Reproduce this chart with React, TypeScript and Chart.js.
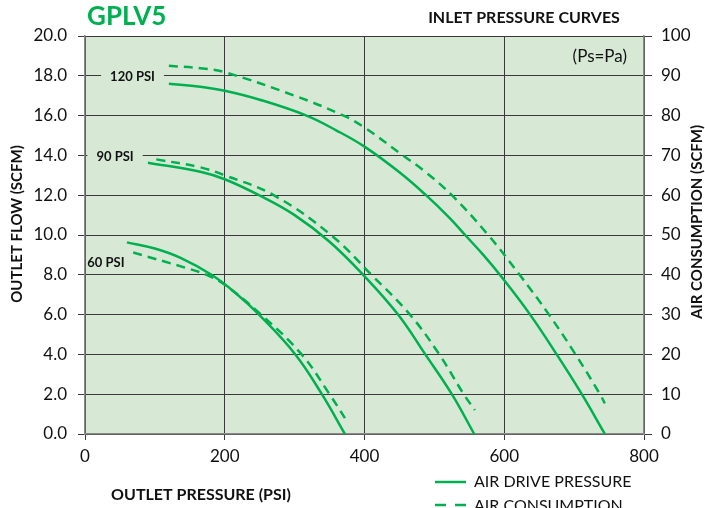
import React, { useEffect, useRef } from 'react';
import { Chart, registerables } from 'chart.js';

Chart.register(...registerables);

// ---------- data ----------
const titleText = 'GPLV5';
const subtitleText = 'INLET PRESSURE CURVES';
const noteText = '(Ps=Pa)';
const xTitle = 'OUTLET PRESSURE (PSI)';
const yTitle = 'OUTLET FLOW (SCFM)';
const y1Title = 'AIR CONSUMPTION (SCFM)';
const legendLabels = ['AIR DRIVE PRESSURE', 'AIR CONSUMPTION'];

const xRange = [0, 800];
const xStep = 200;
const yRange = [0, 20];
const yStep = 2;
const y1Range = [0, 100];
const y1Step = 10;

// Air drive pressure (outlet flow, left axis)
const drive120X = [120, 165, 200, 250, 317, 360, 400, 450, 488, 522, 544, 570, 596, 637, 675, 711, 744];
const drive120Y = [17.6, 17.45, 17.25, 16.8, 16.0, 15.25, 14.44, 13.15, 12.0, 10.85, 10.0, 9.0, 7.9, 6.0, 4.0, 2.0, 0];
const drive90X = [90, 165, 200, 249, 300, 350, 398, 448, 487, 525, 557];
const drive90Y = [13.63, 13.18, 12.8, 12.0, 11.0, 9.66, 8.0, 6.0, 4.0, 2.0, 0];
const drive60X = [60, 100, 136, 181, 215, 249, 301, 339, 372];
const drive60Y = [9.63, 9.32, 8.86, 8.0, 7.1, 6.0, 4.0, 2.0, 0];

// Air consumption (right axis, SCFM)
const cons120X = [120, 165, 200, 300, 370, 400, 455, 484, 525, 577, 622, 664, 702, 737, 744];
const cons120Y = [92.5, 91.9, 90.9, 85, 80, 77, 70, 66.3, 60, 50, 40, 30, 20, 10, 7.7];
const cons90X = [102, 165, 200, 270, 352, 410, 465, 507, 542, 558];
const cons90Y = [69, 67, 65, 60, 50, 40, 30, 20, 10, 6];
const cons60X = [69, 143, 174, 200, 252, 310, 350, 372];
const cons60Y = [45.6, 41.8, 40, 37.5, 30, 20, 10, 4];

// curve labels (text, anchor in data units of the left axis)
const psiLabels = ['120 PSI', '90 PSI', '60 PSI'];
const psiLabelX = [68, 43, 30];
const psiLabelY = [18.0, 14.0, 8.63];
const psiLabelMask = [true, true, false];

// ---------- style ----------
const GREEN = '#00B050';
const PLOT_BG = '#D7E9D5';
const GRID = '#3A3A3A';
const AXIS = '#8A8A8A';
const FONT = 'Lato, "Open Sans", "DejaVu Sans", sans-serif';

const pts = (xs: number[], ys: number[]) => xs.map((x, i) => ({ x, y: ys[i] }));

const decor = {
  id: 'decor',
  beforeDraw(chart: any) {
    const { ctx, chartArea: a } = chart;
    ctx.save();
    ctx.fillStyle = PLOT_BG;
    ctx.fillRect(a.left, a.top, a.right - a.left, a.bottom - a.top);
    ctx.restore();
  },
  beforeDatasetsDraw(chart: any) {
    const { ctx } = chart;
    const xs = chart.scales.x;
    const ys = chart.scales.y;
    ctx.save();
    ctx.font = `bold 13px ${FONT}`;
    ctx.textAlign = 'center';
    ctx.textBaseline = 'middle';
    psiLabels.forEach((t, i) => {
      const px = xs.getPixelForValue(psiLabelX[i]);
      const py = ys.getPixelForValue(psiLabelY[i]);
      if (psiLabelMask[i]) {
        const w = ctx.measureText(t).width + 18;
        ctx.fillStyle = PLOT_BG;
        ctx.fillRect(px - w / 2, py - 7, w, 14);
      }
      ctx.fillStyle = '#111';
      ctx.fillText(t, px, py + 1);
    });
    ctx.restore();
  },
  afterDraw(chart: any) {
    const { ctx } = chart;
    ctx.save();
    // title
    ctx.fillStyle = GREEN;
    ctx.font = `bold 26px ${FONT}`;
    ctx.textAlign = 'left';
    ctx.textBaseline = 'middle';
    ctx.fillText(titleText, 87, 17);
    // subtitle
    ctx.fillStyle = '#111';
    ctx.font = `bold 16px ${FONT}`;
    ctx.textAlign = 'center';
    ctx.fillText(subtitleText, 524, 18);
    // note
    ctx.font = `17px ${FONT}`;
    ctx.textAlign = 'right';
    ctx.fillText(noteText, 627, 57);
    // x title
    ctx.font = `bold 16px ${FONT}`;
    ctx.textAlign = 'center';
    ctx.fillText(xTitle, 201, 495);
    // y titles
    ctx.font = `bold 15px ${FONT}`;
    ctx.save();
    ctx.translate(17, 224);
    ctx.rotate(-Math.PI / 2);
    ctx.fillText(yTitle, 0, 0);
    ctx.restore();
    ctx.save();
    ctx.translate(697, 222);
    ctx.rotate(-Math.PI / 2);
    ctx.fillText(y1Title, 0, 0);
    ctx.restore();
    // legend
    ctx.lineWidth = 2.5;
    ctx.strokeStyle = GREEN;
    ctx.beginPath();
    ctx.moveTo(435, 482);
    ctx.lineTo(466, 482);
    ctx.stroke();
    ctx.setLineDash([11, 9]);
    ctx.beginPath();
    ctx.moveTo(435, 505);
    ctx.lineTo(466, 505);
    ctx.stroke();
    ctx.setLineDash([]);
    ctx.fillStyle = '#111';
    ctx.font = `16px ${FONT}`;
    ctx.textAlign = 'left';
    ctx.fillText(legendLabels[0], 474, 482);
    ctx.fillText(legendLabels[1], 474, 506);
    ctx.restore();
  },
};

export default function App() {
  const ref = useRef<HTMLCanvasElement | null>(null);
  useEffect(() => {
    if (!ref.current) return;
    const solid = { borderColor: GREEN, borderWidth: 2.5, pointRadius: 0, tension: 0.4, fill: false, yAxisID: 'y' };
    const dashed = { ...solid, borderDash: [9, 6], yAxisID: 'y1' };
    const chart = new Chart(ref.current, {
      type: 'line',
      data: {
        datasets: [
          { ...solid, label: 'AIR DRIVE 120', data: pts(drive120X, drive120Y) },
          { ...solid, label: 'AIR DRIVE 90', data: pts(drive90X, drive90Y) },
          { ...solid, label: 'AIR DRIVE 60', data: pts(drive60X, drive60Y) },
          { ...dashed, label: 'AIR CONS 120', data: pts(cons120X, cons120Y) },
          { ...dashed, label: 'AIR CONS 90', data: pts(cons90X, cons90Y) },
          { ...dashed, label: 'AIR CONS 60', data: pts(cons60X, cons60Y) },
        ],
      },
      options: {
        animation: false,
        responsive: true,
        maintainAspectRatio: false,
        layout: { padding: { top: 36, left: 0, right: 0, bottom: 0 } },
        plugins: { legend: { display: false }, tooltip: { enabled: false }, title: { display: false } },
        scales: {
          x: {
            type: 'linear',
            min: xRange[0],
            max: xRange[1],
            ticks: { stepSize: xStep, color: '#111', font: { family: FONT, size: 17 }, padding: 6 },
            grid: { color: GRID, lineWidth: 1, tickLength: 6 },
            border: { color: AXIS, width: 1.5 },
            afterFit: (s: any) => { s.height = 74; },
          },
          y: {
            position: 'left',
            min: yRange[0],
            max: yRange[1],
            ticks: { stepSize: yStep, color: '#111', font: { family: FONT, size: 17 }, padding: 11, callback: (v: any) => Number(v).toFixed(1) },
            grid: { color: GRID, lineWidth: 1, tickLength: 7 },
            border: { color: AXIS, width: 1.5 },
            afterFit: (s: any) => { s.width = 85; },
          },
          y1: {
            position: 'right',
            min: y1Range[0],
            max: y1Range[1],
            ticks: { stepSize: y1Step, color: '#111', font: { family: FONT, size: 17 }, padding: 9 },
            grid: { drawOnChartArea: false, color: GRID, tickLength: 8 },
            border: { color: AXIS, width: 1.5 },
            afterFit: (s: any) => { s.width = 61; },
          },
        },
      },
      plugins: [decor],
    });
    return () => chart.destroy();
  }, []);
  return (
    <div style={{ position: 'fixed', left: 0, top: 0, width: 705, height: 508, background: '#fff' }}>
      <canvas ref={ref} />
    </div>
  );
}
